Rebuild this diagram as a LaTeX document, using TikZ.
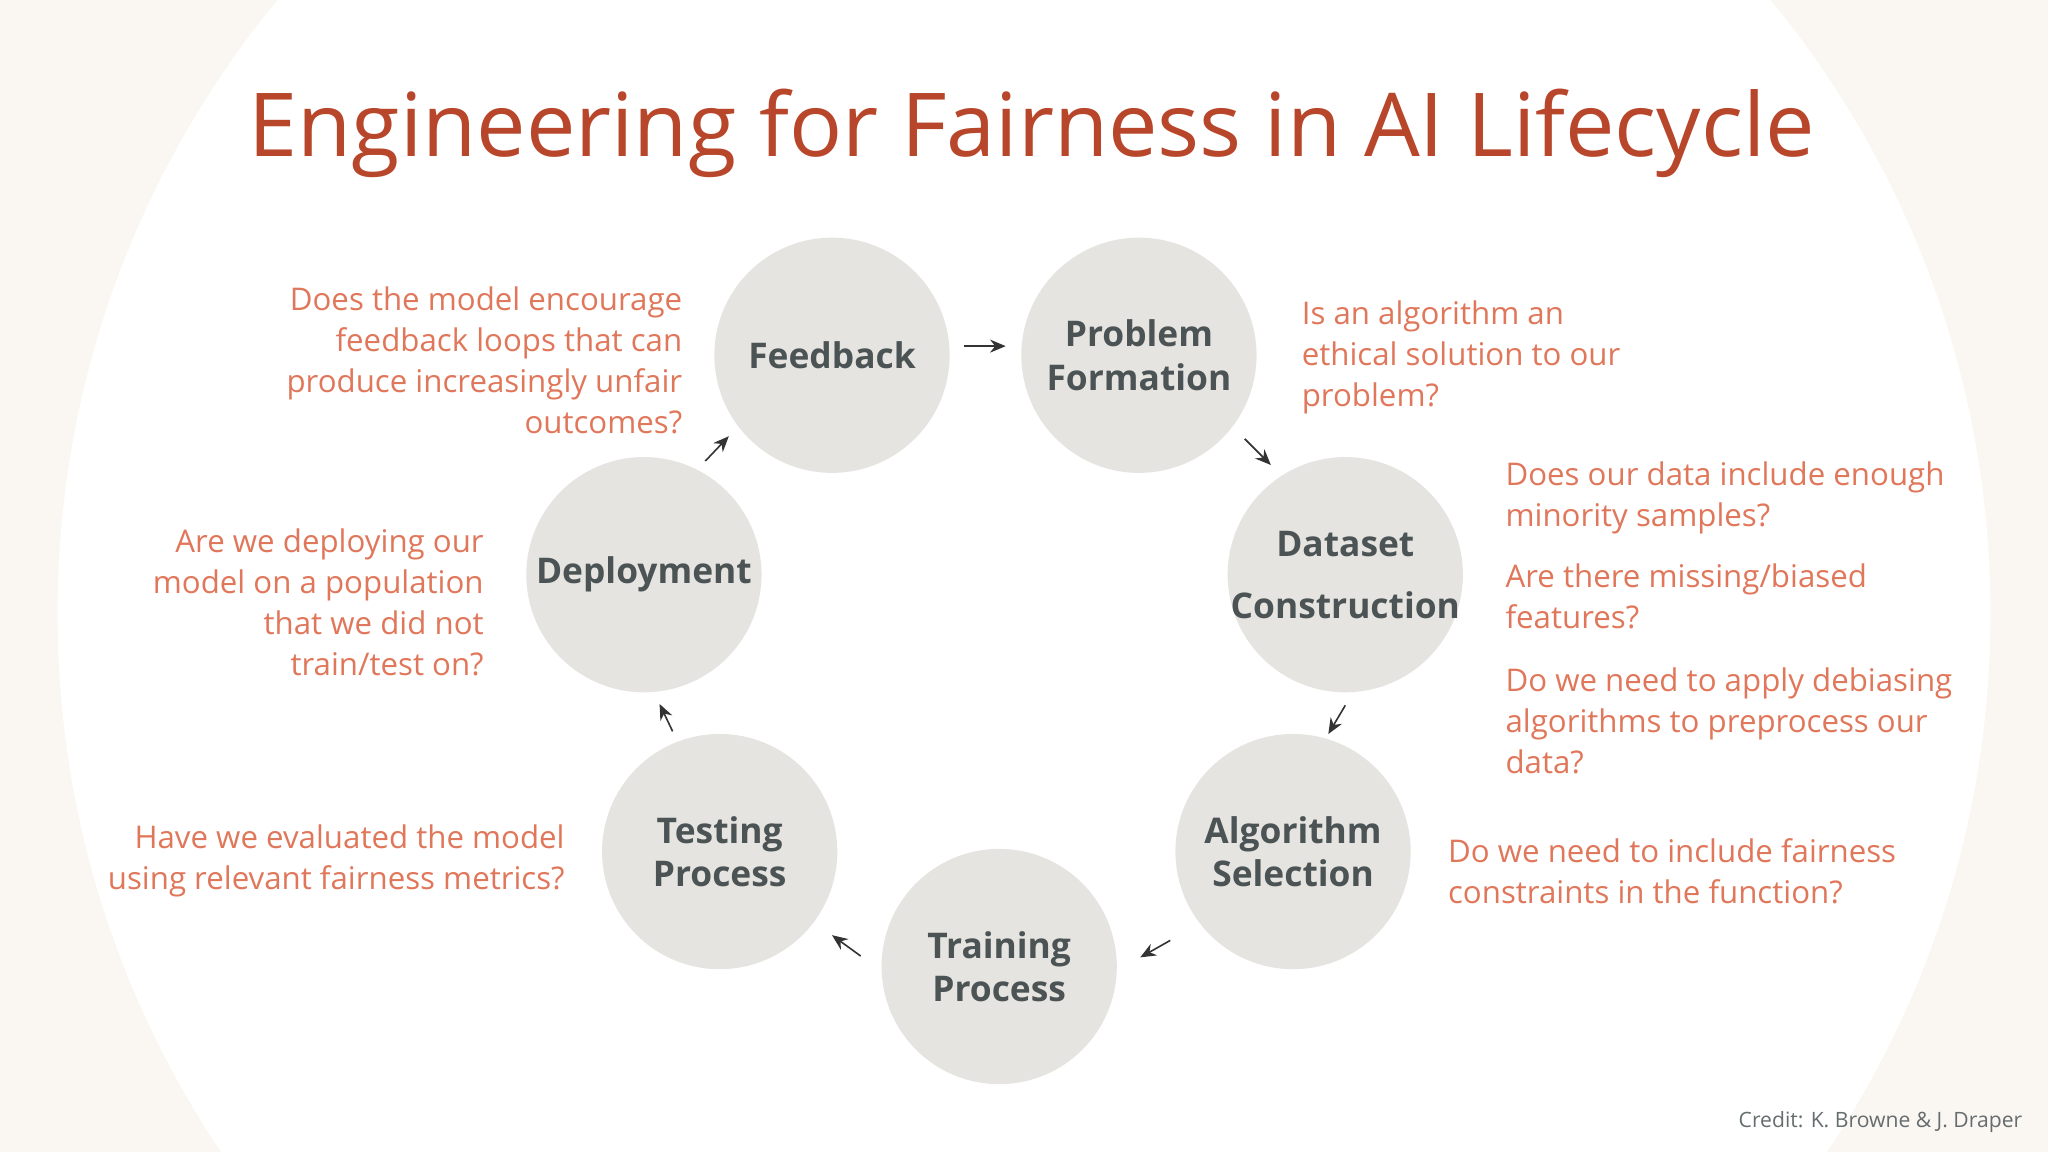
\documentclass[tikz,border=0pt]{standalone}
\usepackage{fontspec}
\setmainfont{Open Sans}
\usetikzlibrary{arrows.meta}
\definecolor{bg}{HTML}{FAF6F2}
\definecolor{circ}{HTML}{E6E4E0}
\definecolor{ctext}{HTML}{4B5354}
\definecolor{qtext}{HTML}{E0775A}
\definecolor{ttl}{HTML}{B8462A}
\tikzset{
 stage/.style={circle,fill=circ,minimum size=1.8cm,inner sep=-20pt,align=center,text=ctext,font=\fontsize{7.7}{9.4}\selectfont\bfseries},
 q/.style={text=qtext,inner sep=0pt,font=\fontsize{6.8}{8.9}\selectfont},
 conn/.style={-{Stealth[length=1.2mm,width=1mm]},line width=0.35pt,black!80},
}
\begin{document}
\begin{tikzpicture}[x=0.01cm,y=-0.01cm]
\useasboundingbox (0,0) rectangle (1568,882);
\fill[bg] (0,0) rectangle (1568,882);
\begin{scope}
\clip (0,0) rectangle (1568,882);
\fill[white] (784,470) circle (740);
\end{scope}
\node[text=ttl,font=\fontsize{19.2}{22}\selectfont,anchor=base] (title) at (790,120) {Engineering for Fairness in AI Lifecycle};

\node[stage] (fb) at (637,272) {Feedback};
\node[stage] (pf) at (872,272) {Problem\\Formation};
\node[stage,font=\fontsize{7.7}{13.5}\selectfont\bfseries] (dc) at (1030,440) {Dataset\\Construction};
\node[stage] (as) at (990,652) {Algorithm\\Selection};
\node[stage] (tr) at (765,740) {Training\\Process};
\node[stage] (te) at (551,652) {Testing\\Process};
\node[stage] (dp) at (493,440) {Deployment};

\coordinate (a1) at (738,265); \coordinate (b1) at (770,265);
\coordinate (a2) at (953,336); \coordinate (b2) at (973,356);
\coordinate (a3) at (1030,540); \coordinate (b3) at (1017,562);
\coordinate (a4) at (896,720); \coordinate (b4) at (873,733);
\coordinate (a5) at (659,732); \coordinate (b5) at (637,716);
\coordinate (a6) at (515,560); \coordinate (b6) at (505,539);
\coordinate (a7) at (540,353); \coordinate (b7) at (558,334);
\foreach \i in {1,...,7} \draw[conn] (a\i) -- (b\i);

\node[q,align=right,anchor=base east] (q1) at (523,332) {Does the model encourage\\feedback loops that can\\produce increasingly unfair\\outcomes?};
\node[q,align=left,anchor=base west] (q2) at (996,311) {Is an algorithm an\\ethical solution to our\\problem?};
\node[q,align=left,anchor=base west] (q3) at (1152,403) {Does our data include enough\\minority samples?};
\node[q,align=left,anchor=base west] (q4) at (1152,481) {Are there missing/biased\\features?};
\node[q,align=left,anchor=base west] (q5) at (1152,592) {Do we need to apply debiasing\\algorithms to preprocess our\\data?};
\node[q,align=left,anchor=base west] (q6) at (1108,692) {Do we need to include fairness\\constraints in the function?};
\node[q,align=right,anchor=base east] (q7) at (433,681) {Have we evaluated the model\\using relevant fairness metrics?};
\node[q,align=right,anchor=base east] (q8) at (371,517) {Are we deploying our\\model on a population\\that we did not\\train/test on?};
\node[text=ctext!85,font=\fontsize{4.6}{5}\selectfont,anchor=base east,inner sep=0pt] (cr) at (1549,863) {Credit: K. Browne \& J. Draper};
\end{tikzpicture}
\end{document}
